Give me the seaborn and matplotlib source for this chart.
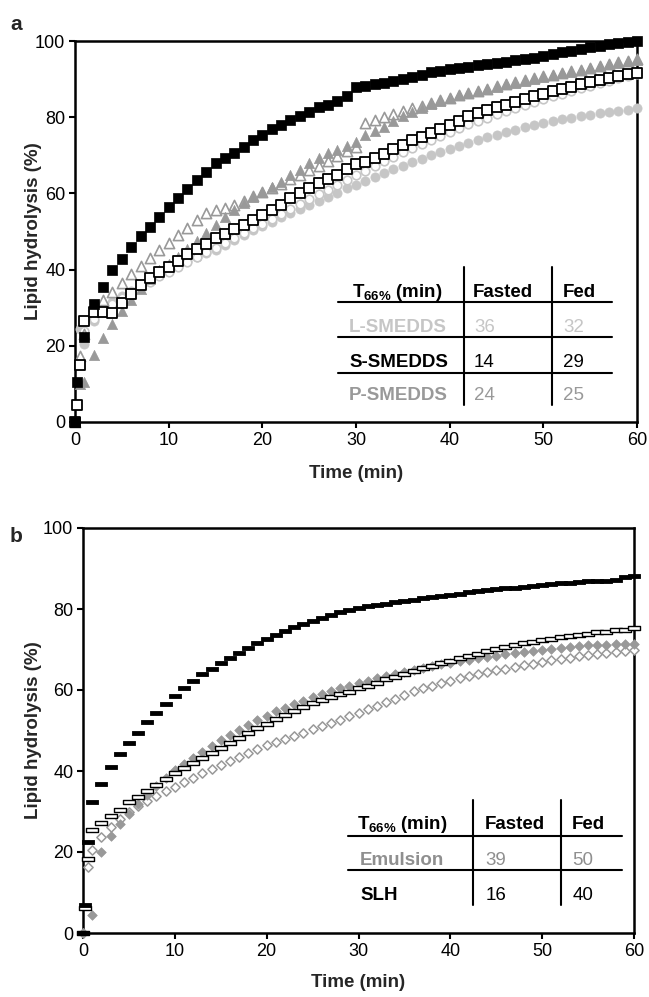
import numpy as np
import pandas as pd
import matplotlib
matplotlib.use('Agg')
import matplotlib.pyplot as plt
from matplotlib.lines import Line2D
from matplotlib.path import Path
import seaborn as sns

nan = np.nan

# ---- data ----
time_min = [0, 0.25, 0.5, 1, 2, 3, 4, 5, 6, 7, 8, 9, 10, 11, 12, 13, 14, 15, 16, 17, 18, 19, 20,
            21, 22, 23, 24, 25, 26, 27, 28, 29, 30, 31, 32, 33, 34, 35, 36, 37, 38, 39, 40,
            41, 42, 43, 44, 45, 46, 47, 48, 49, 50, 51, 52, 53, 54, 55, 56, 57, 58, 59, 60]

# panel a
s_smedds_fasted = [0, 10.5, nan, 22.3, 31.0, 35.5, 39.8, 42.8, 46.0, 48.8, 51.2, 53.8, 56.3, 58.7, 61.2, 63.5,
                   65.7, 67.9, 69.3, 70.6, 72.2, 74.0, 75.3, 76.8, 78.0, 79.3, 80.4, 81.4, 82.6, 83.3, 84.3,
                   85.5, 88.0, 88.3, 88.7, 89.1, 89.6, 90.1, 90.6, 91.2, 91.8, 92.2, 92.6, 92.9, 93.3, 93.7,
                   94.0, 94.3, 94.6, 94.9, 95.2, 95.6, 96.0, 96.5, 97.0, 97.5, 98.0, 98.4, 98.8, 99.1, 99.4,
                   99.7, 100.0]
s_smedds_fed = [0, 4.5, 15.0, 26.5, 28.8, 29.0, 28.6, 31.2, 33.6, 36.0, 37.7, 39.5, 40.8, 42.3, 44.1, 45.3,
                46.7, 48.2, 49.3, 50.6, 51.7, 53.0, 54.3, 55.6, 57.0, 58.7, 60.0, 61.3, 62.6, 63.7, 64.8,
                66.3, 67.7, 68.2, 69.2, 70.4, 71.6, 72.8, 73.9, 74.9, 75.9, 76.9, 78.0, 79.1, 80.2, 81.1,
                81.9, 82.6, 83.3, 84.0, 84.7, 85.5, 86.2, 86.8, 87.4, 88.0, 88.6, 89.2, 89.8, 90.3, 90.8,
                91.3, 91.7]
p_smedds_fasted = [0, nan, 10.1, 10.4, 17.5, 22.1, 25.8, 29.2, 32.0, 35.0, 37.6, 39.8, 41.6, 43.4, 45.5, 47.6,
                   49.7, 51.7, 53.8, 55.6, 57.4, 59.0, 60.3, 61.8, 63.0, 64.8, 66.1, 67.9, 69.2, 70.5, 71.5,
                   72.5, 73.5, 75.2, 76.5, 77.5, 79.0, 80.2, 81.4, 82.5, 83.5, 84.3, 85.0, 85.7, 86.3, 86.9,
                   87.4, 88.0, 88.6, 89.1, 89.6, 90.1, 90.6, 91.1, 91.5, 91.9, 92.4, 92.9, 93.4, 93.9, 94.3,
                   94.7, 95.0]
p_smedds_fed = [0, nan, 17.3, 23.0, 29.6, 32.0, 34.2, 36.4, 38.8, 40.9, 43.0, 45.1, 46.9, 49.1, 50.8, 53.0,
                54.8, 55.7, 56.1, 57.0, 58.1, 59.2, 60.3, 61.4, 62.5, 63.7, 64.9, 66.1, 67.3, 68.5, 69.7,
                71.0, 72.2, 78.5, 79.3, 80.1, 80.9, 81.6, 82.3, 83.0, 83.7, 84.4, 85.1, 85.8, 86.4, 87.0,
                87.5, 88.1, 88.7, 89.2, 89.7, 90.2, 90.7, 91.2, 91.6, 92.0, 92.5, 93.0, 93.5, 94.0, 94.4,
                94.8, 95.2]
l_smedds_fasted = [0, nan, 24.5, 20.4, 26.6, 29.5, 31.5, 33.0, 34.5, 36.0, 37.3, 38.5, 39.8, 41.0, 42.2, 43.4,
                   44.3, 45.2, 46.5, 47.8, 49.1, 50.4, 51.5, 52.6, 53.7, 54.8, 55.9, 57.0, 58.0, 59.1, 60.2,
                   61.3, 62.3, 63.3, 64.3, 65.3, 66.3, 67.3, 68.2, 69.1, 70.0, 70.8, 71.6, 72.4, 73.2, 74.0,
                   74.7, 75.4, 76.1, 76.7, 77.3, 77.9, 78.4, 78.9, 79.4, 79.9, 80.3, 80.7, 81.1, 81.4, 81.7,
                   82.0, 82.3]
l_smedds_fed = [0, nan, nan, 24.0, 27.0, 29.0, 31.0, 32.5, 34.0, 35.5, 36.8, 38.2, 39.5, 40.8, 42.0, 43.2,
                44.5, 45.7, 47.0, 48.2, 49.5, 50.8, 52.0, 53.3, 54.6, 55.9, 57.2, 58.5, 59.8, 61.0, 62.3,
                63.5, 64.8, 66.0, 67.2, 68.4, 69.6, 70.8, 71.9, 73.0, 74.1, 75.1, 76.1, 77.1, 78.1, 79.0,
                79.9, 80.8, 81.6, 82.4, 83.2, 84.0, 84.8, 85.5, 86.2, 86.9, 87.6, 88.3, 89.0, 89.6, 90.2,
                90.8, 91.3]

# panel b
slh_fasted = [0, 6.9, 22.4, 32.3, 36.9, 40.9, 44.2, 47.0, 49.5, 52.1, 54.2, 56.5, 58.5, 60.4, 62.1, 63.9,
              65.2, 66.6, 68.0, 69.2, 70.3, 71.5, 72.5, 73.6, 74.6, 75.5, 76.3, 77.1, 77.9, 78.6, 79.2,
              79.8, 80.3, 80.7, 81.0, 81.3, 81.7, 82.0, 82.3, 82.6, 82.9, 83.2, 83.5, 83.8, 84.1, 84.4,
              84.7, 84.9, 85.1, 85.3, 85.5, 85.7, 85.9, 86.1, 86.3, 86.5, 86.6, 86.8, 86.9, 87.0, 87.2,
              88.0, 88.2]
slh_fed = [0, 6.1, 18.3, 25.5, 27.2, 28.8, 30.4, 32.3, 33.5, 35.1, 36.6, 38.0, 39.4, 40.7, 41.9, 43.2,
           44.5, 45.8, 47.0, 48.2, 49.4, 50.6, 51.7, 52.8, 53.9, 54.9, 55.8, 56.7, 57.5, 58.2, 58.9,
           59.6, 60.4, 61.1, 61.8, 62.6, 63.3, 64.0, 64.7, 65.4, 66.0, 66.6, 67.2, 67.8, 68.4, 69.0,
           69.6, 70.1, 70.6, 71.1, 71.5, 71.9, 72.3, 72.7, 73.0, 73.3, 73.6, 73.9, 74.2, 74.4, 74.7,
           74.9, 75.2]
emulsion_fasted = [0, nan, nan, 4.4, 19.9, 24.0, 26.9, 29.5, 31.8, 34.0, 36.2, 38.2, 40.2, 41.8, 43.3, 44.8,
                   46.2, 47.6, 48.9, 50.2, 51.4, 52.6, 53.7, 54.7, 55.6, 56.5, 57.4, 58.2, 59.0, 59.7, 60.4,
                   61.1, 61.7, 62.3, 62.9, 63.5, 64.0, 64.5, 65.0, 65.5, 65.9, 66.3, 66.7, 67.1, 67.5, 67.8,
                   68.2, 68.5, 68.8, 69.1, 69.4, 69.7, 70.0, 70.2, 70.4, 70.6, 70.8, 71.0, 71.1, 71.2, 71.3,
                   71.3, 71.3]
emulsion_fed = [0, nan, 16.4, 20.5, 23.8, 26.2, 28.2, 29.9, 31.3, 32.6, 33.8, 35.0, 36.1, 37.2, 38.3, 39.4,
                40.4, 41.4, 42.4, 43.4, 44.4, 45.4, 46.3, 47.1, 47.9, 48.7, 49.5, 50.3, 51.1, 51.9, 52.7,
                53.5, 54.3, 55.2, 56.1, 57.0, 57.9, 58.8, 59.7, 60.4, 61.1, 61.7, 62.3, 62.9, 63.4, 63.9,
                64.4, 64.9, 65.3, 65.7, 66.1, 66.5, 66.9, 67.3, 67.7, 68.0, 68.3, 68.6, 68.9, 69.1, 69.4,
                69.6, 69.8]

# T66% tables
table_a_rows = ['L-SMEDDS', 'S-SMEDDS', 'P-SMEDDS']
table_a_fasted = [36, 14, 24]
table_a_fed = [32, 29, 25]
table_b_rows = ['Emulsion', 'SLH']
table_b_fasted = [39, 16]
table_b_fed = [50, 40]

# ---- style ----
LIGHT = '#c6c6c6'
MID = '#999999'
W, H = 649, 997

sns.set_theme(style='ticks')
plt.rcParams['font.family'] = ['Liberation Sans', 'DejaVu Sans']
plt.rcParams['mathtext.fontset'] = 'custom'
plt.rcParams['mathtext.rm'] = 'Liberation Sans'
plt.rcParams['mathtext.bf'] = 'Liberation Sans:bold'
plt.rcParams['mathtext.it'] = 'Liberation Sans:italic'

dash = Path([(-1, -0.3), (1, -0.3), (1, 0.3), (-1, 0.3), (-1, -0.3)],
            [Path.MOVETO, Path.LINETO, Path.LINETO, Path.LINETO, Path.CLOSEPOLY])
bar = Path([(-1, -0.38), (1, -0.38), (1, 0.38), (-1, 0.38), (-1, -0.38)],
           [Path.MOVETO, Path.LINETO, Path.LINETO, Path.LINETO, Path.CLOSEPOLY])

fig = plt.figure(figsize=(W / 100, H / 100), dpi=100)
ax_a = fig.add_axes([75 / W, 1 - 422 / H, 562 / W, 381 / H])
ax_b = fig.add_axes([83 / W, 1 - 933 / H, 551 / W, 405 / H])


def draw(ax, values, marker, size, face, edge, lw, z):
    d = pd.DataFrame({'t': time_min, 'v': values}).dropna()
    sns.scatterplot(data=d, x='t', y='v', ax=ax, marker=marker, s=size, color=face,
                    edgecolor=edge, linewidth=lw, clip_on=False, zorder=z, legend=False)


draw(ax_a, l_smedds_fasted, 'o', 44, LIGHT, LIGHT, 0.5, 3)
draw(ax_a, l_smedds_fed, 'o', 38, 'white', LIGHT, 1.2, 3.1)
draw(ax_a, p_smedds_fed, '^', 54, 'white', MID, 1.2, 3.2)
draw(ax_a, p_smedds_fasted, '^', 54, MID, MID, 0.5, 3.3)
draw(ax_a, s_smedds_fed, 's', 50, 'white', 'black', 1.3, 3.4)
draw(ax_a, s_smedds_fasted, 's', 54, 'black', 'black', 0.5, 3.5)

draw(ax_b, emulsion_fed, 'D', 22, 'white', MID, 1.1, 3)
draw(ax_b, emulsion_fasted, 'D', 24, MID, MID, 0.5, 3.1)
draw(ax_b, slh_fed, bar, 80, 'white', 'black', 1.0, 3.2)
draw(ax_b, slh_fasted, dash, 85, 'black', 'black', 0.6, 3.3)

for ax in (ax_a, ax_b):
    ax.set_xlim(0, 60)
    ax.set_ylim(0, 100)
    ax.set_xticks([0, 10, 20, 30, 40, 50, 60])
    ax.set_yticks([0, 20, 40, 60, 80, 100])
    for sp in ax.spines.values():
        sp.set_visible(True)
        sp.set_linewidth(1.8)
        sp.set_color('black')
    ax.tick_params(direction='out', length=4, width=1.5, labelsize=13, pad=3, colors='black')
    ax.set_xlabel('Time (min)', fontsize=13.5, fontweight='bold')
    ax.set_ylabel('Lipid hydrolysis (%)', fontsize=13.5, fontweight='bold')

ax_a.xaxis.set_label_coords(0.5, -0.113)
ax_a.yaxis.set_label_coords(-0.059, 0.5)
ax_b.xaxis.set_label_coords(0.5, -0.101)
ax_b.yaxis.set_label_coords(-0.074, 0.5)

fig.text(10 / W, 1 - 30 / H, 'a', fontsize=15, fontweight='bold', va='baseline')
fig.text(10 / W, 1 - 542 / H, 'b', fontsize=15, fontweight='bold', va='baseline')


# ---- T66% tables (figure pixel layout) ----
def line(x0, y0, x1, y1):
    fig.add_artist(Line2D([x0 / W, x1 / W], [1 - y0 / H, 1 - y1 / H], color='black',
                          lw=1.5, transform=fig.transFigure))


def txt(x, y, s, color='black', bold=False):
    fig.text(x / W, 1 - y / H, s, color=color, fontsize=13.5,
             fontweight='bold' if bold else 'normal', va='baseline', ha='left')


header = r'T$_{\mathbf{66\%}}$ (min)'

# table a
for y in (301.7, 337.3, 372.7):
    line(338, y, 612, y)
for x in (464, 551.7):
    line(x, 266.7, x, 405)
txt(351.7, 296.7, header, bold=True)
txt(473, 296.7, 'Fasted', bold=True)
txt(563, 296.7, 'Fed', bold=True)
for name, fa, fe, yb, col in zip(table_a_rows, table_a_fasted, table_a_fed,
                                 (331.7, 366.7, 400.0), (LIGHT, 'black', MID)):
    txt(349, yb, name, color=col, bold=True)
    txt(474, yb, str(fa), color=col)
    txt(563, yb, str(fe), color=col)

# table b
for y in (835.7, 870):
    line(348.3, y, 621.7, y)
for x in (473.3, 560.7):
    line(x, 800, x, 905)
txt(356.7, 829, header, bold=True)
txt(485, 829, 'Fasted', bold=True)
txt(571.7, 829, 'Fed', bold=True)
for name, fa, fe, yb, col in zip(table_b_rows, table_b_fasted, table_b_fed,
                                 (865.0, 900.0), ('#8f8f8f', 'black')):
    txt(360, yb, name, color=col, bold=True)
    txt(485.7, yb, str(fa), color=col)
    txt(572.3, yb, str(fe), color=col)

fig.savefig('out.png', dpi=100)
